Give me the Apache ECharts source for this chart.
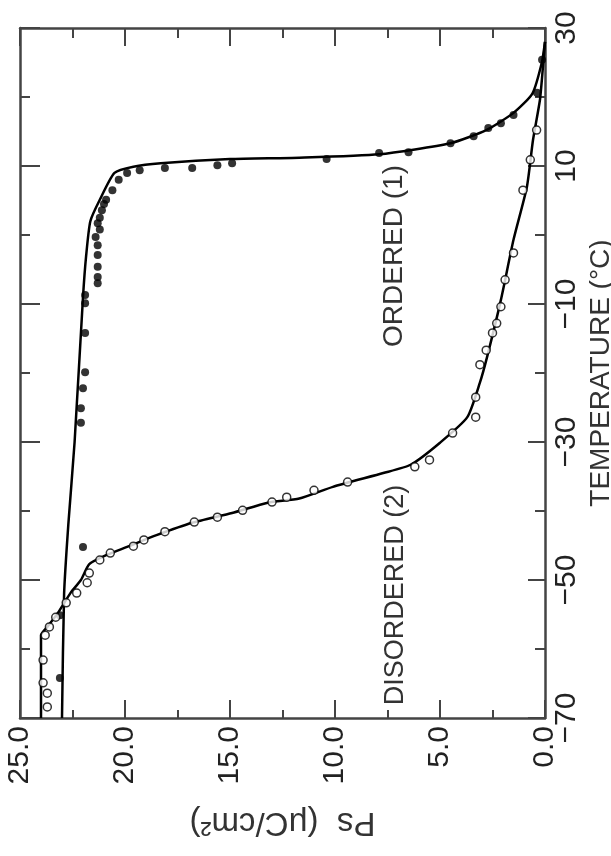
<!DOCTYPE html>
<html>
<head>
<meta charset="utf-8">
<script src="https://cdn.jsdelivr.net/npm/echarts@6/dist/echarts.min.js"></script>
<style>
  html, body { margin: 0; padding: 0; background: #fff; }
  #chart { width: 611px; height: 856px; }
</style>
</head>
<body>
<div id="chart"></div>
<script>
  // ordered (1): filled circles, Ps vs temperature
  const orderedPs = [0.14, 0.38, 1.5, 2.1, 2.7, 3.4, 4.5, 6.5, 7.9, 10.4, 14.9, 15.6, 16.8, 18.1, 19.3, 19.9, 20.3, 20.6, 20.9, 21.0, 21.1, 21.2, 21.3, 21.2, 21.4, 21.3, 21.3, 21.3, 21.3, 21.3, 21.9, 21.9, 21.9, 21.9, 22.0, 22.1, 22.1, 22.0, 23.1, 23.1];
  const orderedT  = [25.4, 20.6, 17.4, 16.2, 15.5, 14.3, 13.3, 12.0, 11.9, 11.0, 10.4, 10.1, 9.7, 9.7, 9.4, 9.0, 8.0, 6.5, 5.1, 4.5, 3.6, 2.5, 1.7, 0.8, -0.3, -1.5, -2.9, -4.6, -6.1, -7.0, -8.7, -9.9, -14.2, -19.9, -22.2, -25.1, -27.2, -45.2, -55.1, -64.2];

  // disordered (2): open circles
  const disorderedPs = [0.4, 0.7, 1.05, 1.5, 1.9, 2.1, 2.3, 2.5, 2.8, 3.1, 3.3, 3.3, 4.4, 5.5, 6.2, 9.4, 11.0, 12.3, 13.0, 14.4, 15.6, 16.7, 18.1, 19.1, 19.6, 20.7, 21.2, 21.7, 21.8, 22.3, 22.8, 23.3, 23.6, 23.8, 23.9, 23.9, 23.7, 23.7];
  const disorderedT  = [15.2, 10.9, 6.5, -2.6, -6.5, -10.4, -12.8, -14.2, -16.7, -18.8, -23.5, -26.4, -28.7, -32.6, -33.6, -35.8, -37.0, -38.0, -38.7, -39.9, -40.9, -41.6, -43.0, -44.2, -45.1, -46.1, -47.1, -49.0, -50.4, -51.9, -53.3, -55.4, -56.8, -58.0, -61.6, -64.9, -66.4, -68.4];

  // drawn curves through each set
  const orderedFitPs = [0, 0.15, 0.6, 1.5, 2.8, 4.5, 7.9, 11.7, 15.0, 18.3, 19.6, 20.5, 21.2, 21.65, 21.85, 22.0, 22.4, 22.7, 22.9, 23.0];
  const orderedFitT  = [28, 25, 20.5, 17.7, 15.2, 13.3, 11.7, 11.2, 11.0, 10.4, 9.9, 9.0, 5.1, 2.0, -3, -9, -30, -42, -52, -70];
  const disorderedFitPs = [0, 0.1, 0.24, 0.57, 0.86, 1.5, 2.1, 2.76, 3.1, 3.7, 5.0, 6.4, 7.7, 10.1, 11.7, 13.2, 14.9, 16.8, 18.5, 19.9, 20.9, 21.7, 22.1, 22.6, 23.2, 23.7, 24.0, 24.0];
  const disorderedFitT  = [28, 24.3, 19.6, 13.8, 7, -0.7, -9.4, -17.7, -21.4, -26.4, -30.1, -33.3, -34.5, -36.5, -38.2, -38.8, -40.3, -41.7, -43.5, -45.2, -46.4, -47.7, -50, -51.9, -54.8, -56.8, -58, -70];

  const zip = (a, b) => a.map((v, i) => [v, b[i]]);

  const font = '"Liberation Sans", Arial, sans-serif';
  const ink = '#222';
  const axisLine = { show: true, onZero: false, lineStyle: { color: '#444', width: 2.5 } };
  const tickStyle = { color: '#444', width: 2 };

  const chart = echarts.init(document.getElementById('chart'));
  chart.setOption({
    backgroundColor: '#fff',
    animation: false,
    grid: { left: 20, right: 66, top: 28, bottom: 138, outerBoundsMode: 'none', containLabel: false },
    xAxis: [
      {
        type: 'value', position: 'bottom', min: 0, max: 25, interval: 5, inverse: true,
        axisLine: axisLine,
        axisTick: { inside: true, length: 18, lineStyle: tickStyle },
        minorTick: { show: true, splitNumber: 2, length: 8, lineStyle: tickStyle },
        splitLine: { show: false },
        axisLabel: { rotate: 90, margin: 8, fontFamily: font, fontSize: 30, color: ink,
          formatter: v => v.toFixed(1) },
        name: 'Ps  (\u03bcC/cm\u00b2)', nameLocation: 'middle', nameRotate: 180, nameGap: 88,
        nameTextStyle: { fontFamily: font, fontSize: 33, color: '#333' }
      },
      {
        type: 'value', position: 'top', min: 0, max: 25, interval: 5, inverse: true,
        axisLine: axisLine,
        axisTick: { inside: true, length: 18, lineStyle: tickStyle },
        minorTick: { show: true, splitNumber: 2, length: 10, lineStyle: tickStyle },
        splitLine: { show: false },
        axisLabel: { show: false }
      }
    ],
    yAxis: [
      {
        type: 'value', position: 'right', min: -70, max: 30, interval: 20,
        axisLine: axisLine,
        axisTick: { inside: true, length: 17, lineStyle: tickStyle },
        minorTick: { show: true, splitNumber: 2, length: 10, lineStyle: tickStyle },
        splitLine: { show: false },
        axisLabel: { rotate: 90, margin: 7, fontFamily: font, fontSize: 30, color: ink,
          formatter: v => (v < 0 ? '\u2212' + (-v) : String(v)) },
        name: 'TEMPERATURE (\u00b0C)', nameLocation: 'middle', nameRotate: 90, nameGap: 42,
        nameMoveOverlap: false,
        nameTextStyle: { fontFamily: font, fontSize: 28, color: '#333' }
      },
      {
        type: 'value', position: 'left', min: -70, max: 30, interval: 20,
        axisLine: axisLine,
        axisTick: { inside: true, length: 20, lineStyle: tickStyle },
        minorTick: { show: true, splitNumber: 2, length: 10, lineStyle: tickStyle },
        splitLine: { show: false },
        axisLabel: { show: false }
      }
    ],
    series: [
      {
        name: 'ordered fit', type: 'line', xAxisIndex: 0, yAxisIndex: 0,
        data: zip(orderedFitPs, orderedFitT), smooth: 0.2, showSymbol: false,
        lineStyle: { color: '#000', width: 2.5 }, z: 2
      },
      {
        name: 'disordered fit', type: 'line', xAxisIndex: 0, yAxisIndex: 0,
        data: zip(disorderedFitPs, disorderedFitT), smooth: 0.2, showSymbol: false,
        lineStyle: { color: '#000', width: 2.5 }, z: 2
      },
      {
        name: 'ORDERED (1)', type: 'scatter', xAxisIndex: 0, yAxisIndex: 0,
        data: zip(orderedPs, orderedT), symbol: 'circle', symbolSize: 8,
        itemStyle: { color: '#000' }, z: 3
      },
      {
        name: 'DISORDERED (2)', type: 'scatter', xAxisIndex: 0, yAxisIndex: 0,
        data: zip(disorderedPs, disorderedT), symbol: 'circle', symbolSize: 8,
        itemStyle: { color: '#fff', borderColor: '#000', borderWidth: 1.5 }, z: 3
      }
    ],
    graphic: [
      {
        type: 'text', x: 394, y: 256, rotation: Math.PI / 2,
        style: { text: 'ORDERED (1)', font: '28px ' + font, fill: '#333',
          textAlign: 'center', textVerticalAlign: 'middle', align: 'center', verticalAlign: 'middle' }
      },
      {
        type: 'text', x: 396, y: 595, rotation: Math.PI / 2,
        style: { text: 'DISORDERED (2)', font: '27px ' + font, fill: '#333',
          textAlign: 'center', textVerticalAlign: 'middle', align: 'center', verticalAlign: 'middle' }
      }
    ]
  });
</script>
</body>
</html>
